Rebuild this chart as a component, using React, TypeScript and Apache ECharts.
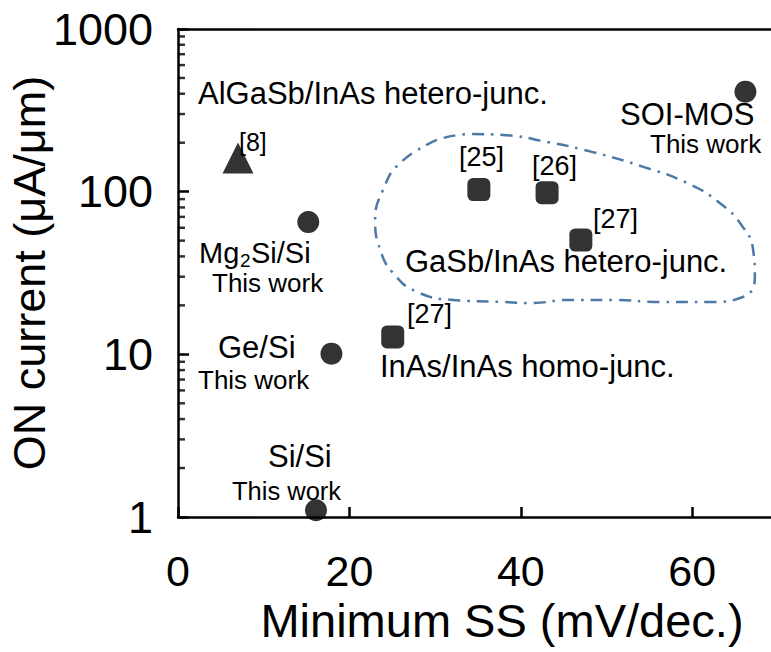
import React, { useEffect, useRef } from "react";
import * as echarts from "echarts";

// ---- data ----
const thisWorkSS = [15.2, 17.9, 16.1, 66.2];
const thisWorkOn = [65, 10.1, 1.1, 412];
const refSS = [25.05, 35.1, 43.06, 47.0];
const refOn = [12.8, 103, 98.6, 50.4];
const algasbSS = [7.0];
const algasbOn = [161];

const xTicks = [0, 20, 40, 60];
const yTicks = [1, 10, 100, 1000];
const yMinorTicks = [2, 3, 4, 5, 6, 7, 8, 9, 20, 30, 40, 50, 60, 70, 80, 90, 200, 300, 400, 500, 600, 700, 800, 900];

// outline of the GaSb/InAs group (data coordinates)
const blobX = [30.2, 25.9, 23.9, 23.0, 23.6, 25.1, 27.9, 32.1, 37.6, 41.4, 45.4, 50.8, 56.2, 62.1, 65.9, 67.3, 67.1, 65.9, 63.2, 59.4, 54.3, 48.4, 43.1, 37.9, 34.1, 30.2];
const blobY = [208, 150, 102, 67, 43.8, 31.6, 24.2, 21.6, 21.0, 20.7, 21.6, 21.6, 21.0, 21.0, 22.5, 29.9, 43.8, 60.7, 85.2, 113, 142, 175, 202, 223, 226, 208];

const FONT = "'Liberation Sans', Arial, sans-serif";

function txt(text: string, x: number, y: number, size: number) {
  return {
    type: "text",
    x,
    y,
    z: 50,
    style: {
      text,
      fontSize: size,
      lineHeight: Math.round(size * 0.8),
      fontFamily: FONT,
      fill: "#000",
      align: "left",
      verticalAlign: "middle",
    },
  };
}

export default function App() {
  const ref = useRef<HTMLDivElement>(null);
  useEffect(() => {
    document.body.style.margin = "0";
    const chart = echarts.init(ref.current!, null, { renderer: "svg" });
    const axisLineStyle = { color: "#000", width: 2.5 };
    chart.setOption({
      animation: false,
      backgroundColor: "#fff",
      grid: {
        left: 178,
        top: 29,
        width: 600,
        height: 488,
        outerBoundsMode: "none",
        containLabel: false,
      },
      xAxis: [
        {
          type: "value",
          min: 0,
          max: 70,
          interval: 20,
          splitLine: { show: false },
          axisLine: { lineStyle: axisLineStyle },
          axisTick: { inside: true, length: 10, lineStyle: { width: 2.5, color: "#000" } },
          axisLabel: {
            fontSize: 43,
            fontFamily: FONT,
            color: "#000",
            margin: 32,
            formatter: (v: number) => (xTicks.includes(v) ? String(v) : ""),
          },
          name: "Minimum SS (mV/dec.)",
          nameLocation: "middle",
          nameMoveOverlap: false,
          nameGap: 103,
          nameTextStyle: {
            fontSize: 47,
            fontFamily: FONT,
            color: "#000",
            verticalAlign: "middle",
            padding: [0, 0, 0, 48],
          },
        },
        {
          type: "value",
          position: "top",
          min: 0,
          max: 70,
          interval: 20,
          splitLine: { show: false },
          axisLine: { onZero: false, lineStyle: axisLineStyle },
          axisTick: { show: false },
          axisLabel: { show: false },
        },
      ],
      yAxis: {
        type: "log",
        logBase: 10,
        min: 1,
        max: 1000,
        splitLine: { show: false },
        axisLine: { lineStyle: axisLineStyle },
        axisTick: { inside: true, length: 11, lineStyle: { width: 2.5, color: "#000" } },
        axisLabel: {
          fontSize: 45,
          fontFamily: FONT,
          color: "#000",
          margin: 25,
          formatter: (v: number) => (yTicks.includes(Math.round(v)) ? String(Math.round(v)) : ""),
        },
        name: "ON current (\u03bcA/\u03bcm)",
        nameLocation: "middle",
        nameMoveOverlap: false,
        nameGap: 149,
        nameTextStyle: { fontSize: 45, fontFamily: FONT, color: "#000", verticalAlign: "middle" },
      },
      series: [
        {
          type: "scatter",
          name: "minor ticks",
          silent: true,
          clip: false,
          data: yMinorTicks.map((v) => [0, v]),
          symbol: "rect",
          symbolSize: [7, 2.5],
          symbolOffset: [3.5, 0],
          itemStyle: { color: "#000" },
          z: 6,
        },
        {
          type: "line",
          name: "GaSb/InAs group",
          data: blobX.map((x, i) => [x, blobY[i]]),
          smooth: 0.5,
          symbol: "none",
          lineStyle: { color: "#4d79a6", width: 2.5, type: [12, 7, 2.5, 7] },
          z: 1,
        },
        {
          type: "scatter",
          name: "This work",
          data: thisWorkSS.map((x, i) => [x, thisWorkOn[i]]),
          symbol: "circle",
          symbolSize: 22,
          itemStyle: { color: "#000" },
          z: 5,
        },
        {
          type: "scatter",
          name: "Refs",
          data: refSS.map((x, i) => [x, refOn[i]]),
          symbol: "roundRect",
          symbolSize: 23,
          itemStyle: { color: "#000" },
          z: 5,
        },
        {
          type: "scatter",
          name: "AlGaSb/InAs",
          data: algasbSS.map((x, i) => [x, algasbOn[i]]),
          symbol: "triangle",
          symbolSize: 31,
          itemStyle: { color: "#000" },
          z: 5,
        },
      ],
      graphic: [
        txt("AlGaSb/InAs hetero-junc.", 198, 93, 31),
        txt("[8]", 239, 142, 25),
        txt("Mg", 199, 253, 29),
        txt("2", 240, 260, 19),
        txt("Si/Si", 251, 253, 29),
        txt("This work", 212, 283, 26),
        txt("Ge/Si", 218, 347, 31),
        txt("This work", 198, 380, 26),
        txt("Si/Si", 268, 456, 31),
        txt("This work", 232, 491, 25.5),
        txt("[27]", 407, 314, 27),
        txt("InAs/InAs homo-junc.", 380, 366, 31),
        txt("[25]", 459, 157, 27),
        txt("[26]", 532, 166, 27),
        txt("[27]", 593, 219, 27),
        txt("GaSb/InAs hetero-junc.", 405, 261, 31),
        txt("SOI-MOS", 620, 114, 31),
        txt("This work", 650, 144, 26),
      ],
    });
    return () => chart.dispose();
  }, []);
  return <div ref={ref} style={{ width: 771, height: 652 }} />;
}
